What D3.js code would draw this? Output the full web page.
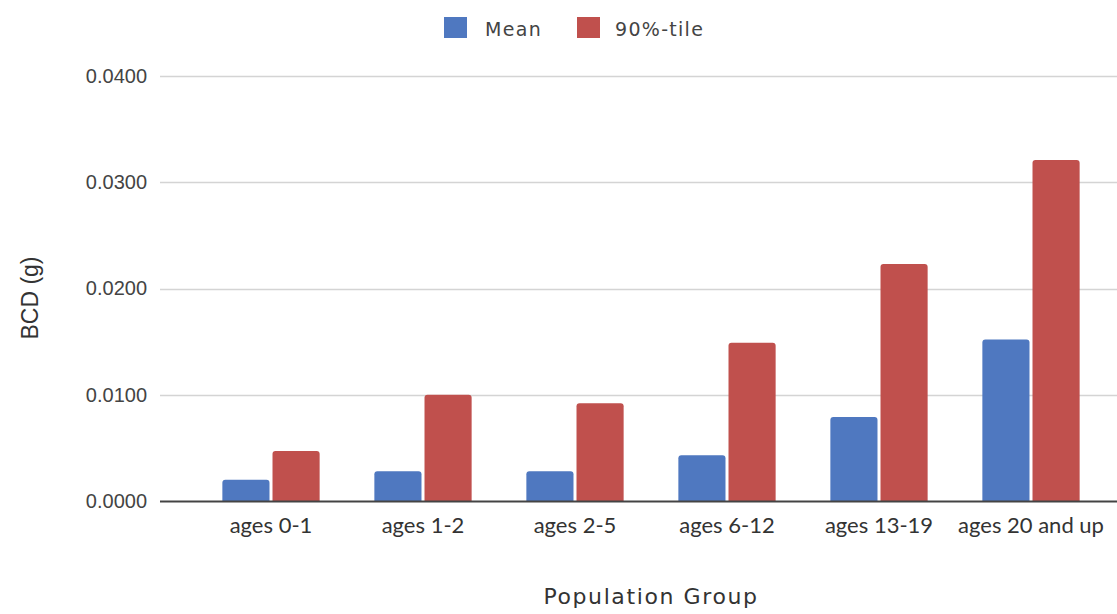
<!DOCTYPE html>
<html>
<head>
<meta charset="utf-8">
<script src="https://cdn.jsdelivr.net/npm/d3@7"></script>
<style>
  html, body { margin: 0; padding: 0; background: #fff; }
  svg { display: block; }
</style>
</head>
<body>
<svg id="chart" width="1117" height="614"></svg>
<script>
const categories = ["ages 0-1", "ages 1-2", "ages 2-5", "ages 6-12", "ages 13-19", "ages 20 and up"];
const seriesNames = ["Mean", "90%-tile"];
const meanValues = [0.0020, 0.0028, 0.0028, 0.0043, 0.0079, 0.0152];
const p90Values = [0.0047, 0.0100, 0.0092, 0.0149, 0.0223, 0.0321];
const yTicks = [0, 0.01, 0.02, 0.03, 0.04];
const colors = ["#4f78c0", "#c0504d"];

const svg = d3.select("#chart");
const gridLeft = 160, gridRight = 1117;
const x0 = 195, x1 = 1107, yTop = 76, yBase = 501;

const x = d3.scaleBand().domain(categories).range([x0, x1]).paddingInner(0.36).paddingOuter(0.18);
const xSub = d3.scaleBand().domain(seriesNames).range([0, x.bandwidth()]).paddingInner(0.06);
const y = d3.scaleLinear().domain([0, 0.04]).range([yBase, yTop]);
const color = d3.scaleOrdinal().domain(seriesNames).range(colors);

// gridlines
svg.append("g").selectAll("line").data(yTicks.filter(d => d > 0)).join("line")
  .attr("x1", gridLeft).attr("x2", gridRight)
  .attr("y1", d => Math.round(y(d)) + 0.5).attr("y2", d => Math.round(y(d)) + 0.5)
  .attr("stroke", "#d4d4d4").attr("stroke-width", 1.5);

// y axis labels via d3 axis
const yAxis = d3.axisLeft(y).tickValues(yTicks).tickFormat(d3.format(".4f")).tickSize(0).tickPadding(0);
const yg = svg.append("g").attr("transform", `translate(147,0)`).call(yAxis);
yg.select(".domain").remove();
yg.selectAll("text").attr("font-family", "'Liberation Sans', Arial, sans-serif")
  .attr("font-size", 20).attr("fill", "#444");

// bars
const rows = categories.map((c, i) => ({ cat: c, vals: [meanValues[i], p90Values[i]] }));
const groups = svg.append("g").selectAll("g").data(rows).join("g")
  .attr("transform", d => `translate(${x(d.cat)},0)`);
groups.selectAll("path").data(d => d.vals.map((v, j) => ({ key: seriesNames[j], v }))).join("path")
  .attr("d", d => {
    const bx = xSub(d.key), bw = xSub.bandwidth(), ty = y(d.v), r = 3;
    return `M${bx},${yBase} V${ty + r} Q${bx},${ty} ${bx + r},${ty} H${bx + bw - r} Q${bx + bw},${ty} ${bx + bw},${ty + r} V${yBase} Z`;
  })
  .attr("fill", d => color(d.key));

// baseline
svg.append("line").attr("x1", gridLeft).attr("x2", gridRight)
  .attr("y1", yBase + 0.5).attr("y2", yBase + 0.5)
  .attr("stroke", "#444").attr("stroke-width", 2);

// x axis labels
const xAxis = d3.axisBottom(x).tickSize(0).tickPadding(0);
const xg = svg.append("g").attr("transform", `translate(0,${yBase + 15})`).call(xAxis);
xg.select(".domain").remove();
xg.selectAll("text").attr("font-family", "Lato, 'Open Sans', sans-serif")
  .attr("font-size", 22).attr("fill", "#333").attr("dy", "0.75em");

// axis titles
svg.append("text").attr("x", (x0 + x1) / 2).attr("y", 604).attr("text-anchor", "middle")
  .attr("font-family", "'DejaVu Sans', Verdana, sans-serif").attr("font-size", 22).attr("fill", "#333")
  .attr("letter-spacing", 1.6)
  .text("Population Group");
svg.append("text").attr("transform", `translate(38,298) rotate(-90)`).attr("text-anchor", "middle")
  .attr("font-family", "'Liberation Sans', Arial, sans-serif").attr("font-size", 23).attr("fill", "#333")
  .text("BCD (g)");

// legend
const legendX = [444, 577];
const lg = svg.append("g").selectAll("g").data(seriesNames).join("g")
  .attr("transform", (d, i) => `translate(${legendX[i]},17)`);
lg.append("rect").attr("width", 23).attr("height", 21).attr("fill", d => color(d));
lg.append("text").attr("x", (d, i) => i === 0 ? 41 : 38).attr("y", 19)
  .attr("font-family", "'DejaVu Sans', Verdana, sans-serif").attr("font-size", 19).attr("fill", "#444")
  .attr("letter-spacing", 1.3)
  .text(d => d);
</script>
</body>
</html>
